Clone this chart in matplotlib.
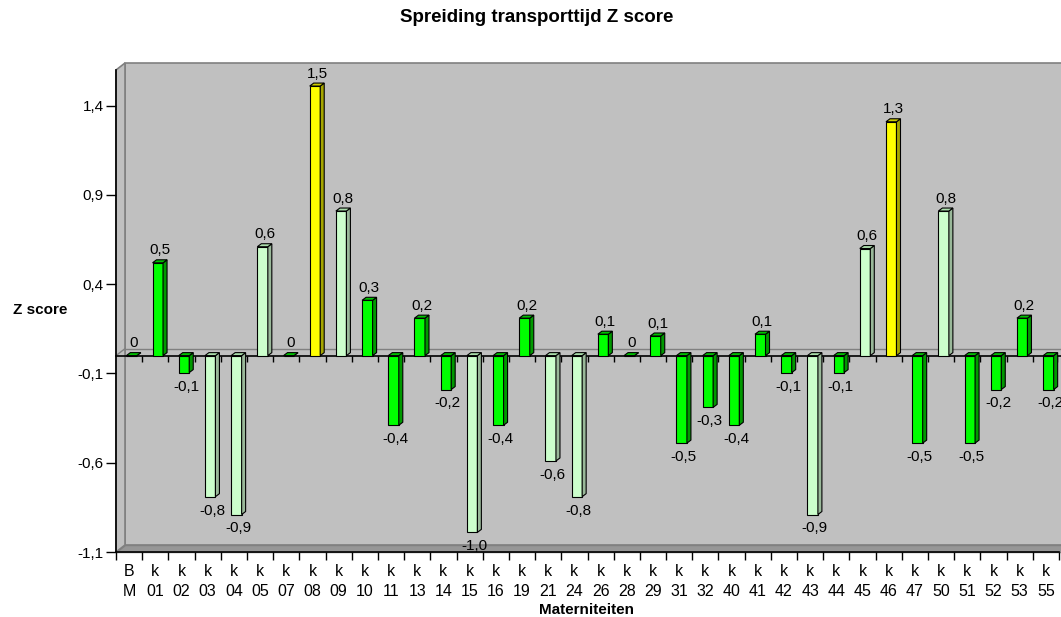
import numpy as np
import matplotlib.pyplot as plt
from matplotlib.patches import Polygon

plt.rcParams["font.family"] = ["Liberation Sans", "DejaVu Sans"]

# materniteiten (x-as)
categories = ["B\nM", "k\n01", "k\n02", "k\n03", "k\n04", "k\n05", "k\n07", "k\n08",
              "k\n09", "k\n10", "k\n11", "k\n13", "k\n14", "k\n15", "k\n16", "k\n19",
              "k\n21", "k\n24", "k\n26", "k\n28", "k\n29", "k\n31", "k\n32", "k\n40",
              "k\n41", "k\n42", "k\n43", "k\n44", "k\n45", "k\n46", "k\n47", "k\n50",
              "k\n51", "k\n52", "k\n53", "k\n55"]

# Z score per materniteit
zscores = [0.0, 0.52, -0.095, -0.79, -0.89, 0.61, 0.0, 1.51,
           0.81, 0.31, -0.39, 0.21, -0.19, -0.99, -0.39, 0.21,
           -0.59, -0.79, 0.12, 0.0, 0.11, -0.49, -0.29, -0.39,
           0.12, -0.095, -0.89, -0.095, 0.6, 1.31, -0.49, 0.81,
           -0.49, -0.19, 0.21, -0.19]

# kleurgroep: g = groen, l = lichtgroen, y = geel
groups = ["g", "g", "g", "l", "l", "l", "g", "y",
          "l", "g", "g", "g", "g", "l", "g", "g",
          "l", "l", "g", "g", "g", "g", "g", "g",
          "g", "g", "l", "g", "l", "y", "g", "l",
          "g", "g", "g", "g"]

yticks = [-1.1, -0.6, -0.1, 0.4, 0.9, 1.4]

front = {"g": "#00FF00", "l": "#CCFFCC", "y": "#FFFF00"}
side = {"g": "#009900", "l": "#99B899", "y": "#A6A600"}
top = {"g": "#00C000", "l": "#AADDAA", "y": "#CCCC00"}

W, H = 1061, 617
fig = plt.figure(figsize=(W / 100, H / 100), dpi=100)
ax = fig.add_axes([116 / W, 1 - 552 / H, 943 / W, 482 / H])
ax.set_facecolor("none")

n = len(categories)
ymin, ymax = -1.1, 1.6
ax.set_xlim(0, n)
ax.set_ylim(ymin, ymax)

# pixel -> data
px = n / 943
py = (ymax - ymin) / 482
dx, dy = 9 * px, 7 * py      # diepte wanden
bdx, bdy = 4 * px, 3 * py    # diepte staven

# achterwand, zijwand, vloer
xr = n + 30 * px
ax.add_patch(Polygon([(dx, ymin + dy), (xr, ymin + dy), (xr, ymax + dy), (dx, ymax + dy)],
                     closed=True, fc="#C0C0C0", ec="#808080", lw=1.2, zorder=0, clip_on=False))
ax.add_patch(Polygon([(0, ymin), (dx, ymin + dy), (dx, ymax + dy), (0, ymax)],
                     closed=True, fc="#C0C0C0", ec="#808080", lw=1.2, zorder=0.5, clip_on=False))
ax.add_patch(Polygon([(0, ymin), (xr, ymin), (xr, ymin + dy), (dx, ymin + dy)],
                     closed=True, fc="#969696", ec="#808080", lw=1, zorder=0.5, clip_on=False))

# nulvlak
ax.plot([dx, xr], [dy, dy], color="#808080", lw=1, zorder=1, clip_on=False)
ax.plot([0, dx], [0, dy], color="#808080", lw=1, zorder=1, clip_on=False)
ax.plot([0, xr], [0, 0], color="black", lw=1.2, zorder=2, clip_on=False)
ax.vlines(np.arange(1, n + 1), 0, -6 * py, color="black", lw=1, zorder=2)

x = np.arange(n) + 0.5
bars = ax.bar(x + 2.5 * px, zscores, width=10.5 * px,
              color=[front[g] for g in groups], edgecolor="black", linewidth=0.8, zorder=4)

for b, v, g in zip(bars, zscores, groups):
    x0 = b.get_x()
    x1 = x0 + b.get_width()
    lo = min(b.get_y(), b.get_y() + b.get_height())
    hi = max(b.get_y(), b.get_y() + b.get_height())
    ax.add_patch(Polygon([(x1, lo), (x1 + bdx, lo + bdy), (x1 + bdx, hi + bdy), (x1, hi)],
                         closed=True, fc=side[g], ec="black", lw=0.8, zorder=4))
    ax.add_patch(Polygon([(x0, hi), (x0 + bdx, hi + bdy), (x1 + bdx, hi + bdy), (x1, hi)],
                         closed=True, fc=top[g], ec="black", lw=0.8, zorder=4))
    label = "0" if v == 0 else f"{v:.1f}".replace(".", ",")
    xc = (x0 + x1) / 2 + bdx / 2
    if v >= 0:
        ax.annotate(label, (xc, hi), xytext=(0, 6), textcoords="offset points",
                    ha="center", va="baseline", fontsize=11, zorder=5)
    else:
        ax.annotate(label, (xc, lo), xytext=(0, -5), textcoords="offset points",
                    ha="center", va="top", fontsize=11, zorder=5)

# assen
for s in ["top", "right"]:
    ax.spines[s].set_visible(False)
for s in ["left", "bottom"]:
    ax.spines[s].set_color("black")
    ax.spines[s].set_linewidth(1.2)
    ax.spines[s].set_zorder(3)

ax.set_xticks(x, labels=categories, linespacing=1.35)
ax.set_xticks(np.arange(n + 1), minor=True)
ax.tick_params(axis="x", which="major", length=0, pad=9, labelsize=11.5)
ax.tick_params(axis="x", which="minor", length=6, width=1)
ax.set_yticks(yticks, labels=[f"{t:.1f}".replace(".", ",") for t in yticks])
ax.tick_params(axis="y", length=7, width=1, pad=2, labelsize=11)

fig.text(537 / W, 1 - 18 / H, "Spreiding transporttijd Z score", ha="center", va="center",
         fontsize=13.5, fontweight="bold")
fig.text(40 / W, 1 - 310 / H, "Z score", ha="center", va="center", fontsize=11, fontweight="bold")
fig.text(586 / W, 1 - 610 / H, "Materniteiten", ha="center", va="center", fontsize=11,
         fontweight="bold")

fig.savefig("out.png", dpi=100)
